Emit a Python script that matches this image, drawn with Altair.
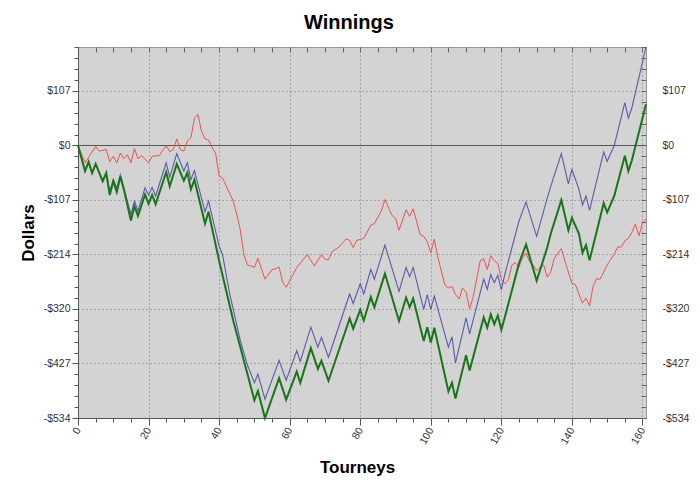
import altair as alt
import pandas as pd

# ---------------- data ----------------
red_t = [0, 2, 5, 6, 8, 9, 10, 11, 12, 13, 14, 15, 16, 17, 18, 20, 21, 23, 25, 26, 27, 28, 29, 30,
         31, 32, 33, 34, 35, 36, 37, 38, 39, 40, 41, 44, 45, 46, 47, 48, 49, 50, 51, 53, 55, 56, 57,
         58, 59, 61, 62, 65, 67, 69, 70, 71, 72, 74, 76, 77, 78, 79, 80, 81, 83, 84, 86, 87, 89, 90,
         91, 93, 94, 95, 97, 98, 99, 100, 101, 102, 104, 105, 106, 107, 108, 109, 110, 111, 112, 114,
         115, 116, 117, 118, 119, 120, 121, 122, 123, 124, 125, 126, 127, 128, 129, 130, 131, 132,
         133, 134, 135, 137, 138, 140, 141, 143, 144, 145, 146, 147, 148, 150, 152, 153, 154, 155,
         156, 157, 158, 159, 160, 161]
red_v = [0, -34, -2, -11, -8, -32, -21, -34, -15, -26, -18, -34, -6, -26, -20, -34, -21, -20, 0, -12,
         -8, 13, -8, -11, 9, 15, 53, 61, 28, 13, 11, -4, -15, -60, -64, -109, -135, -165, -213, -234,
         -236, -239, -221, -262, -243, -242, -238, -268, -278, -252, -239, -214, -236, -214, -223,
         -224, -208, -199, -183, -186, -200, -186, -184, -182, -156, -153, -128, -106, -137, -143,
         -166, -126, -139, -124, -175, -178, -189, -210, -184, -219, -274, -279, -276, -292, -301,
         -279, -288, -320, -297, -226, -222, -243, -216, -226, -231, -262, -271, -263, -234, -230,
         -238, -220, -211, -228, -234, -245, -239, -234, -258, -248, -221, -202, -226, -270, -273,
         -309, -299, -314, -276, -261, -262, -234, -213, -199, -199, -187, -182, -170, -154, -177,
         -152, -144]

blue_t = [0, 2, 3, 4, 5, 7, 8, 9, 10, 11, 12, 13, 15, 16, 17, 19, 20, 21, 22, 25, 26, 28, 30, 31, 32,
          33, 36, 37, 40, 41, 43, 46, 48, 50, 51, 53, 57, 59, 62, 63, 66, 68, 69, 71, 77, 78, 80, 81,
          83, 84, 87, 91, 93, 94, 95, 98, 99, 100, 101, 105, 106, 107, 110, 111, 115, 116, 117, 118,
          119, 120, 121, 125, 127, 130, 133, 134, 137, 139, 140, 142, 143, 144, 145, 149, 150, 152,
          155, 156, 157, 161]
blue_v = [0, -50, -32, -54, -36, -70, -54, -90, -67, -83, -57, -83, -135, -109, -128, -83, -97, -82,
          -99, -34, -62, -16, -50, -34, -67, -49, -130, -109, -197, -215, -291, -382, -430, -465,
          -448, -497, -421, -460, -402, -423, -356, -395, -376, -415, -291, -310, -271, -291, -243,
          -262, -195, -286, -239, -257, -239, -321, -292, -321, -295, -395, -375, -426, -338, -369,
          -262, -282, -253, -269, -254, -283, -252, -148, -111, -178, -103, -80, -16, -75, -47, -86,
          -117, -99, -127, -13, -31, 0, 84, 54, 74, 193]

green_t = [0, 2, 3, 4, 5, 7, 8, 9, 10, 11, 12, 13, 15, 16, 17, 19, 20, 21, 22, 25, 26, 28, 30, 31, 32,
           33, 36, 37, 40, 44, 47, 50, 51, 53, 57, 59, 62, 63, 66, 68, 69, 71, 77, 78, 80, 81, 83, 84,
           87, 91, 93, 94, 95, 98, 99, 100, 101, 105, 106, 107, 110, 111, 115, 116, 117, 118, 119,
           120, 121, 125, 127, 130, 133, 134, 137, 139, 140, 142, 143, 144, 145, 149, 150, 152, 155,
           156, 157, 161]
green_v = [0, -50, -32, -54, -36, -70, -54, -97, -70, -91, -61, -86, -147, -119, -138, -96, -114, -97,
           -115, -52, -80, -36, -69, -53, -86, -67, -153, -130, -226, -343, -421, -499, -481, -534,
           -456, -498, -443, -465, -397, -438, -422, -461, -339, -359, -322, -343, -297, -317, -251,
           -344, -298, -317, -300, -383, -356, -386, -357, -482, -465, -496, -411, -441, -337, -357,
           -331, -350, -333, -361, -336, -231, -194, -265, -200, -173, -107, -166, -142, -173, -210,
           -195, -225, -113, -131, -99, -20, -50, -29, 81]

# tick labels
x_major = [0, 20, 40, 60, 80, 100, 120, 140, 160]
y_major = [-534, -427.2, -320.4, -213.6, -106.8, 0, 106.8]
y_labels = ["-$534", "-$427", "-$320", "-$214", "-$107", "$0", "$107"]

# ---------------- layout helpers ----------------
FONT = "Liberation Sans"
X_DOMAIN = [0, 161]
Y_DOMAIN = [-534, 193]

x_ticks = list(range(0, 161, 5))
y_ticks = [round(-534 + k * 21.36, 2) for k in range(35) if -534 + k * 21.36 <= Y_DOMAIN[1]]

x_major_test = "indexof(" + str(x_major) + ", datum.value) >= 0"
y_major_test = "abs(datum.value / 106.8 - round(datum.value / 106.8)) < 0.01"

y_label_expr = ""
for val, lab in zip(y_major, y_labels):
    y_label_expr += f"abs(datum.value - ({val})) < 0.5 ? '{lab}' : "
y_label_expr += "''"

xs = alt.Scale(domain=X_DOMAIN, nice=False, zero=False)
ys = alt.Scale(domain=Y_DOMAIN, nice=False, zero=False)

axis_bottom = alt.Axis(
    orient="bottom", values=x_ticks,
    labelExpr=f"{x_major_test} ? datum.label : ''",
    labelAngle=300, labelAlign="right", labelBaseline="middle", labelPadding=3,
    labelFont=FONT, labelFontSize=10.5, labelColor="#333", labelOverlap=False, labelFlush=False,
    tickSize={"condition": {"test": x_major_test, "value": 7}, "value": 4},
    tickColor="#555", domainColor="#555",
    grid=True, gridDash=[1, 3], gridColor="#777",
    gridOpacity={"condition": {"test": x_major_test, "value": 1}, "value": 0},
    title="Tourneys", titleFont=FONT, titleFontSize=17, titleFontWeight="bold", titleColor="black",
    titleX=279, titleY=49, titleAlign="center", titleBaseline="middle",
)
axis_left = alt.Axis(
    orient="left", values=y_ticks, labelExpr=y_label_expr,
    labelPadding=2, labelFont=FONT, labelFontSize=10.5, labelColor="#333", labelOverlap=False,
    labelFlush=False,
    tickSize={"condition": {"test": y_major_test, "value": 6}, "value": 4},
    tickColor="#555", domainColor="#555",
    grid=True, gridDash=[1, 3], gridColor="#777",
    gridOpacity={"condition": {"test": y_major_test, "value": 1}, "value": 0},
    title="Dollars", titleFont=FONT, titleFontSize=17, titleFontWeight="bold", titleColor="black",
    titleX=-50, titleY=185.5, titleAngle=270, titleAlign="center", titleBaseline="middle",
)
axis_right = alt.Axis(
    orient="right", values=y_ticks, labelExpr=y_label_expr, offset=-5, domain=False,
    tickSize=5, tickColor="#666", labelPadding=16, labelFont=FONT, labelFontSize=10.5,
    labelColor="#333", labelOverlap=False, labelFlush=False, grid=False, title=None,
)
axis_top = alt.Axis(
    orient="top", values=x_ticks, offset=-5, domain=False, tickSize=5, tickColor="#666",
    labels=False, grid=False, title=None,
)


def series(t, v, color, width, axes=False):
    df = pd.DataFrame({"t": t, "v": v})
    return alt.Chart(df).mark_line(color=color, strokeWidth=width).encode(
        x=alt.X("t:Q", scale=xs, axis=axis_bottom if axes else None),
        y=alt.Y("v:Q", scale=ys, axis=axis_left if axes else None),
    )


zero = alt.Chart(pd.DataFrame({"v": [0]})).mark_rule(color="#555", strokeWidth=1).encode(
    y=alt.Y("v:Q", scale=ys, axis=None)
)

red = series(red_t, red_v, "#ee5252", 1, axes=True)
blue = series(blue_t, blue_v, "#5a5aaa", 1.1)
green = series(green_t, green_v, "#1a741a", 2)

frame_axes = alt.Chart(pd.DataFrame({"t": green_t, "v": green_v})).mark_line(opacity=0).encode(
    x=alt.X("t:Q", scale=xs, axis=axis_top),
    y=alt.Y("v:Q", scale=ys, axis=axis_right),
)

chart = (
    alt.layer(zero, red, blue, green, frame_axes)
    .resolve_axis(x="independent", y="independent")
    .properties(
        width=568, height=371,
        autosize=alt.AutoSizeParams(type="none"),
        padding={"left": 70, "top": 39, "right": 46, "bottom": 62},
        background="white",
        title=alt.TitleParams(
            "Winnings", font=FONT, fontSize=20, fontWeight="bold", color="black",
            anchor="middle", frame="group", dx=-13, dy=26, offset=19, baseline="alphabetic",
        ),
    )
    .configure_view(fill="#d3d3d3", stroke="#999")
)

chart.save("out.html", embed_options={"renderer": "svg", "actions": False})
